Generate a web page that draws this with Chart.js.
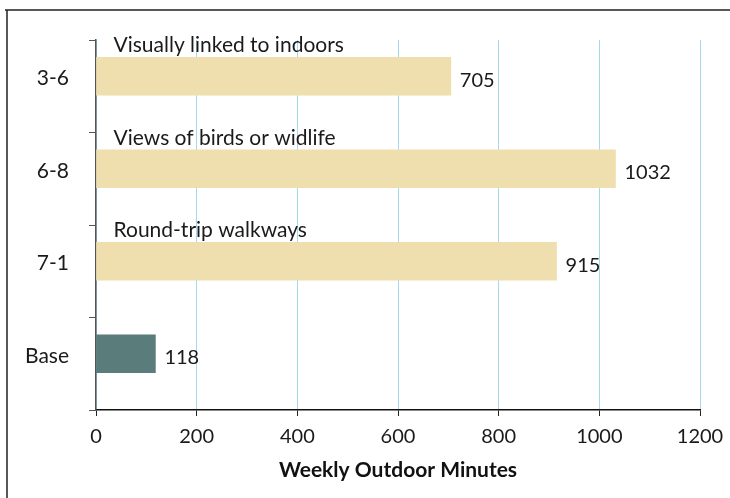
<!DOCTYPE html>
<html>
<head>
<meta charset="utf-8">
<script src="https://cdn.jsdelivr.net/npm/chart.js@4"></script>
<style>
  html, body { margin: 0; padding: 0; background: #fff; }
  #wrap { width: 730px; height: 498px; position: relative; }
</style>
</head>
<body>
<div id="wrap"><canvas id="outdoorChart"></canvas></div>
<script>
const categories = ['3-6', '6-8', '7-1', 'Base'];
const minutes = [705, 1032, 915, 118];
const barNotes = ['Visually linked to indoors', 'Views of birds or widlife', 'Round-trip walkways', ''];
const xTicks = [0, 200, 400, 600, 800, 1000, 1200];

const BAR_SHIFT = -10; // bars sit high in their slot

const barLabels = {
    id: 'barLabels',
    beforeDraw(chart) {
        // frame around the figure
        const ctx = chart.ctx;
        ctx.save();
        ctx.strokeStyle = '#222';
        ctx.lineWidth = 1.5;
        ctx.beginPath();
        ctx.moveTo(5, 10);
        ctx.lineTo(730, 10);
        ctx.moveTo(7, 10);
        ctx.lineTo(7, 498);
        ctx.stroke();
        ctx.restore();
    },
    beforeDatasetsDraw(chart) {
        chart.ctx.save();
        chart.ctx.translate(0, BAR_SHIFT);
    },
    afterDatasetsDraw(chart) {
        const ctx = chart.ctx;
        ctx.restore();
        const meta = chart.getDatasetMeta(0);
        ctx.save();
        ctx.fillStyle = '#1a1a1a';
        meta.data.forEach((bar, i) => {
            const top = bar.y - bar.height / 2 + BAR_SHIFT;
            ctx.textAlign = 'left';
            if (barNotes[i]) {
                ctx.font = '21px Lato';
                ctx.textBaseline = 'alphabetic';
                ctx.fillText(barNotes[i], bar.base + 17, top - 5);
            }
            ctx.font = '20px Lato';
            ctx.textBaseline = 'middle';
            ctx.fillText(String(minutes[i]), bar.x + 9, bar.y + BAR_SHIFT + 4);
        });
        ctx.restore();
    }
};

new Chart(document.getElementById('outdoorChart'), {
    type: 'bar',
    data: {
        labels: categories,
        datasets: [{
            data: minutes,
            backgroundColor: categories.map(c => c === 'Base' ? '#5a7c7a' : '#efdeae'),
            barThickness: 38,
            borderWidth: 0
        }]
    },
    options: {
        indexAxis: 'y',
        responsive: true,
        maintainAspectRatio: false,
        animation: false,
        layout: {
            padding: { left: 0, right: 30, top: 40, bottom: 0 }
        },
        plugins: {
            legend: { display: false },
            tooltip: { enabled: false }
        },
        scales: {
            x: {
                min: 0,
                max: 1200,
                afterBuildTicks: scale => {
                    scale.ticks = xTicks.map(v => ({ value: v }));
                },
                afterFit: scale => {
                    scale.height = 88;
                    scale.paddingLeft = 0;
                    scale.paddingRight = 0;
                },
                grid: {
                    color: '#a3d8ee',
                    lineWidth: 1,
                    tickColor: '#222',
                    tickLength: 6
                },
                border: { color: '#111', width: 1.5 },
                ticks: {
                    padding: 9,
                    font: { family: 'Lato', size: 20 },
                    color: '#1a1a1a',
                    maxRotation: 0,
                    callback: v => String(v)
                },
                title: {
                    display: true,
                    text: 'Weekly Outdoor Minutes',
                    font: { family: 'Lato', size: 21, weight: 'bold' },
                    color: '#111',
                    padding: { top: 0, bottom: 15 }
                }
            },
            y: {
                afterFit: scale => { scale.width = 96; },
                grid: {
                    offset: true,
                    drawOnChartArea: false,
                    color: '#555',
                    tickLength: 7
                },
                border: { color: '#555', width: 1.5 },
                ticks: {
                    padding: 20,
                    labelOffset: -8,
                    font: { family: 'Lato', size: 21 },
                    color: '#1a1a1a'
                }
            }
        }
    },
    plugins: [barLabels]
});
</script>
</body>
</html>
